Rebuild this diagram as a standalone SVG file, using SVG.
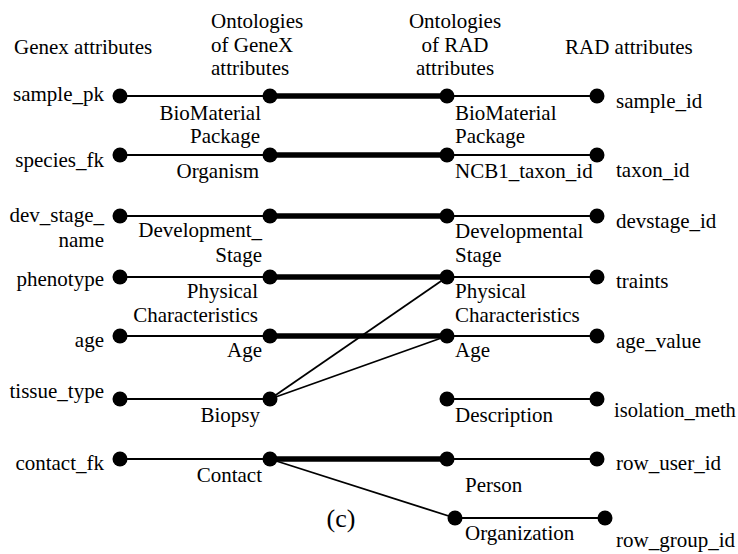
<svg xmlns="http://www.w3.org/2000/svg" width="738" height="554" viewBox="0 0 738 554">
<defs>
<circle id="dot" r="7.5" fill="#000"/>
</defs>
<rect width="738" height="554" fill="#fff"/>
<g font-family="Liberation Serif" font-size="21" fill="#000">
<g id="headers">
<text x="14" y="54">Genex attributes</text>
<text x="211" y="28">Ontologies</text>
<text x="211" y="52">of GeneX</text>
<text x="211" y="75">attributes</text>
<text text-anchor="middle" x="455" y="28">Ontologies</text>
<text text-anchor="middle" x="455" y="52">of RAD</text>
<text text-anchor="middle" x="455" y="75">attributes</text>
<text x="565" y="54">RAD attributes</text>
</g>
<g id="connectors" stroke="#000" fill="none">
<g stroke-width="1.8">
<line x1="120" y1="96" x2="270" y2="96"/>
<line x1="447" y1="96" x2="597" y2="96"/>
<line x1="120" y1="155" x2="270" y2="155"/>
<line x1="447" y1="155" x2="597" y2="155"/>
<line x1="120" y1="216" x2="270" y2="216"/>
<line x1="447" y1="216" x2="597" y2="216"/>
<line x1="120" y1="277" x2="270" y2="277"/>
<line x1="447" y1="277" x2="597" y2="277"/>
<line x1="120" y1="336" x2="270" y2="336"/>
<line x1="447" y1="336" x2="597" y2="336"/>
<line x1="120" y1="399" x2="270" y2="399"/>
<line x1="270" y1="399" x2="447" y2="277"/>
<line x1="270" y1="399" x2="447" y2="336"/>
<line x1="447" y1="399" x2="597" y2="399"/>
<line x1="120" y1="459" x2="270" y2="459"/>
<line x1="447" y1="459" x2="597" y2="459"/>
<line x1="270" y1="459" x2="455" y2="518"/>
<line x1="455" y1="518" x2="605" y2="518"/>
</g>
<g stroke-width="5.5">
<line x1="270" y1="96" x2="447" y2="96"/>
<line x1="270" y1="155" x2="447" y2="155"/>
<line x1="270" y1="216" x2="447" y2="216"/>
<line x1="270" y1="277" x2="447" y2="277"/>
<line x1="270" y1="336" x2="447" y2="336"/>
<line x1="270" y1="459" x2="447" y2="459"/>
</g>
</g>
<g text-anchor="end">
<g id="sample_pk"><use href="#dot" x="120" y="96"/><text x="104" y="101">sample_pk</text></g>
<g id="species_fk"><use href="#dot" x="120" y="155"/><text x="104" y="167">species_fk</text></g>
<g id="dev_stage_name"><use href="#dot" x="120" y="216"/><text x="104" y="222">dev_stage_</text><text x="104" y="247">name</text></g>
<g id="phenotype"><use href="#dot" x="120" y="277"/><text x="104" y="286">phenotype</text></g>
<g id="age"><use href="#dot" x="120" y="336"/><text x="104" y="347">age</text></g>
<g id="tissue_type"><use href="#dot" x="120" y="399"/><text x="104" y="398">tissue_type</text></g>
<g id="contact_fk"><use href="#dot" x="120" y="459"/><text x="104" y="470">contact_fk</text></g>
<g id="gx_biomaterial"><use href="#dot" x="270" y="96"/><text x="261" y="120">BioMaterial</text><text x="260" y="143">Package</text></g>
<g id="gx_organism"><use href="#dot" x="270" y="155"/><text x="259" y="178">Organism</text></g>
<g id="gx_devstage"><use href="#dot" x="270" y="216"/><text x="262" y="237">Development_</text><text x="262" y="262">Stage</text></g>
<g id="gx_physical"><use href="#dot" x="270" y="277"/><text x="258" y="298">Physical</text><text x="258" y="322">Characteristics</text></g>
<g id="gx_age"><use href="#dot" x="270" y="336"/><text x="262" y="357">Age</text></g>
<g id="gx_biopsy"><use href="#dot" x="270" y="399"/><text x="260" y="422">Biopsy</text></g>
<g id="gx_contact"><use href="#dot" x="270" y="459"/><text x="262" y="482">Contact</text></g>
</g>
<g id="rad_biomaterial"><use href="#dot" x="447" y="96"/><text x="455" y="120">BioMaterial</text><text x="455" y="143">Package</text></g>
<g id="rad_taxon"><use href="#dot" x="447" y="155"/><text x="455" y="178">NCB1_taxon_id</text></g>
<g id="rad_devstage"><use href="#dot" x="447" y="216"/><text x="455" y="238">Developmental</text><text x="455" y="262">Stage</text></g>
<g id="rad_physical"><use href="#dot" x="447" y="277"/><text x="455" y="298">Physical</text><text x="455" y="322">Characteristics</text></g>
<g id="rad_age"><use href="#dot" x="447" y="336"/><text x="455" y="357">Age</text></g>
<g id="rad_description"><use href="#dot" x="447" y="399"/><text x="455" y="422">Description</text></g>
<g id="rad_person"><use href="#dot" x="447" y="459"/><text x="465" y="492">Person</text></g>
<g id="rad_organization"><use href="#dot" x="455" y="518"/><text x="465" y="540">Organization</text></g>
<g id="sample_id"><use href="#dot" x="597" y="96"/><text x="616" y="108">sample_id</text></g>
<g id="taxon_id"><use href="#dot" x="597" y="155"/><text x="616" y="177">taxon_id</text></g>
<g id="devstage_id"><use href="#dot" x="597" y="216"/><text x="616" y="228">devstage_id</text></g>
<g id="traints"><use href="#dot" x="597" y="277"/><text x="616" y="288">traints</text></g>
<g id="age_value"><use href="#dot" x="597" y="336"/><text x="616" y="348">age_value</text></g>
<g id="isolation_method"><use href="#dot" x="597" y="399"/><text x="614" y="417" font-size="20.5">isolation_meth</text></g>
<g id="row_user_id"><use href="#dot" x="597" y="459"/><text x="616" y="470">row_user_id</text></g>
<g id="row_group_id"><use href="#dot" x="605" y="518"/><text x="616" y="547">row_group_id</text></g>
<text text-anchor="middle" x="341" y="527" font-size="26">(c)</text>
</g>
</svg>
